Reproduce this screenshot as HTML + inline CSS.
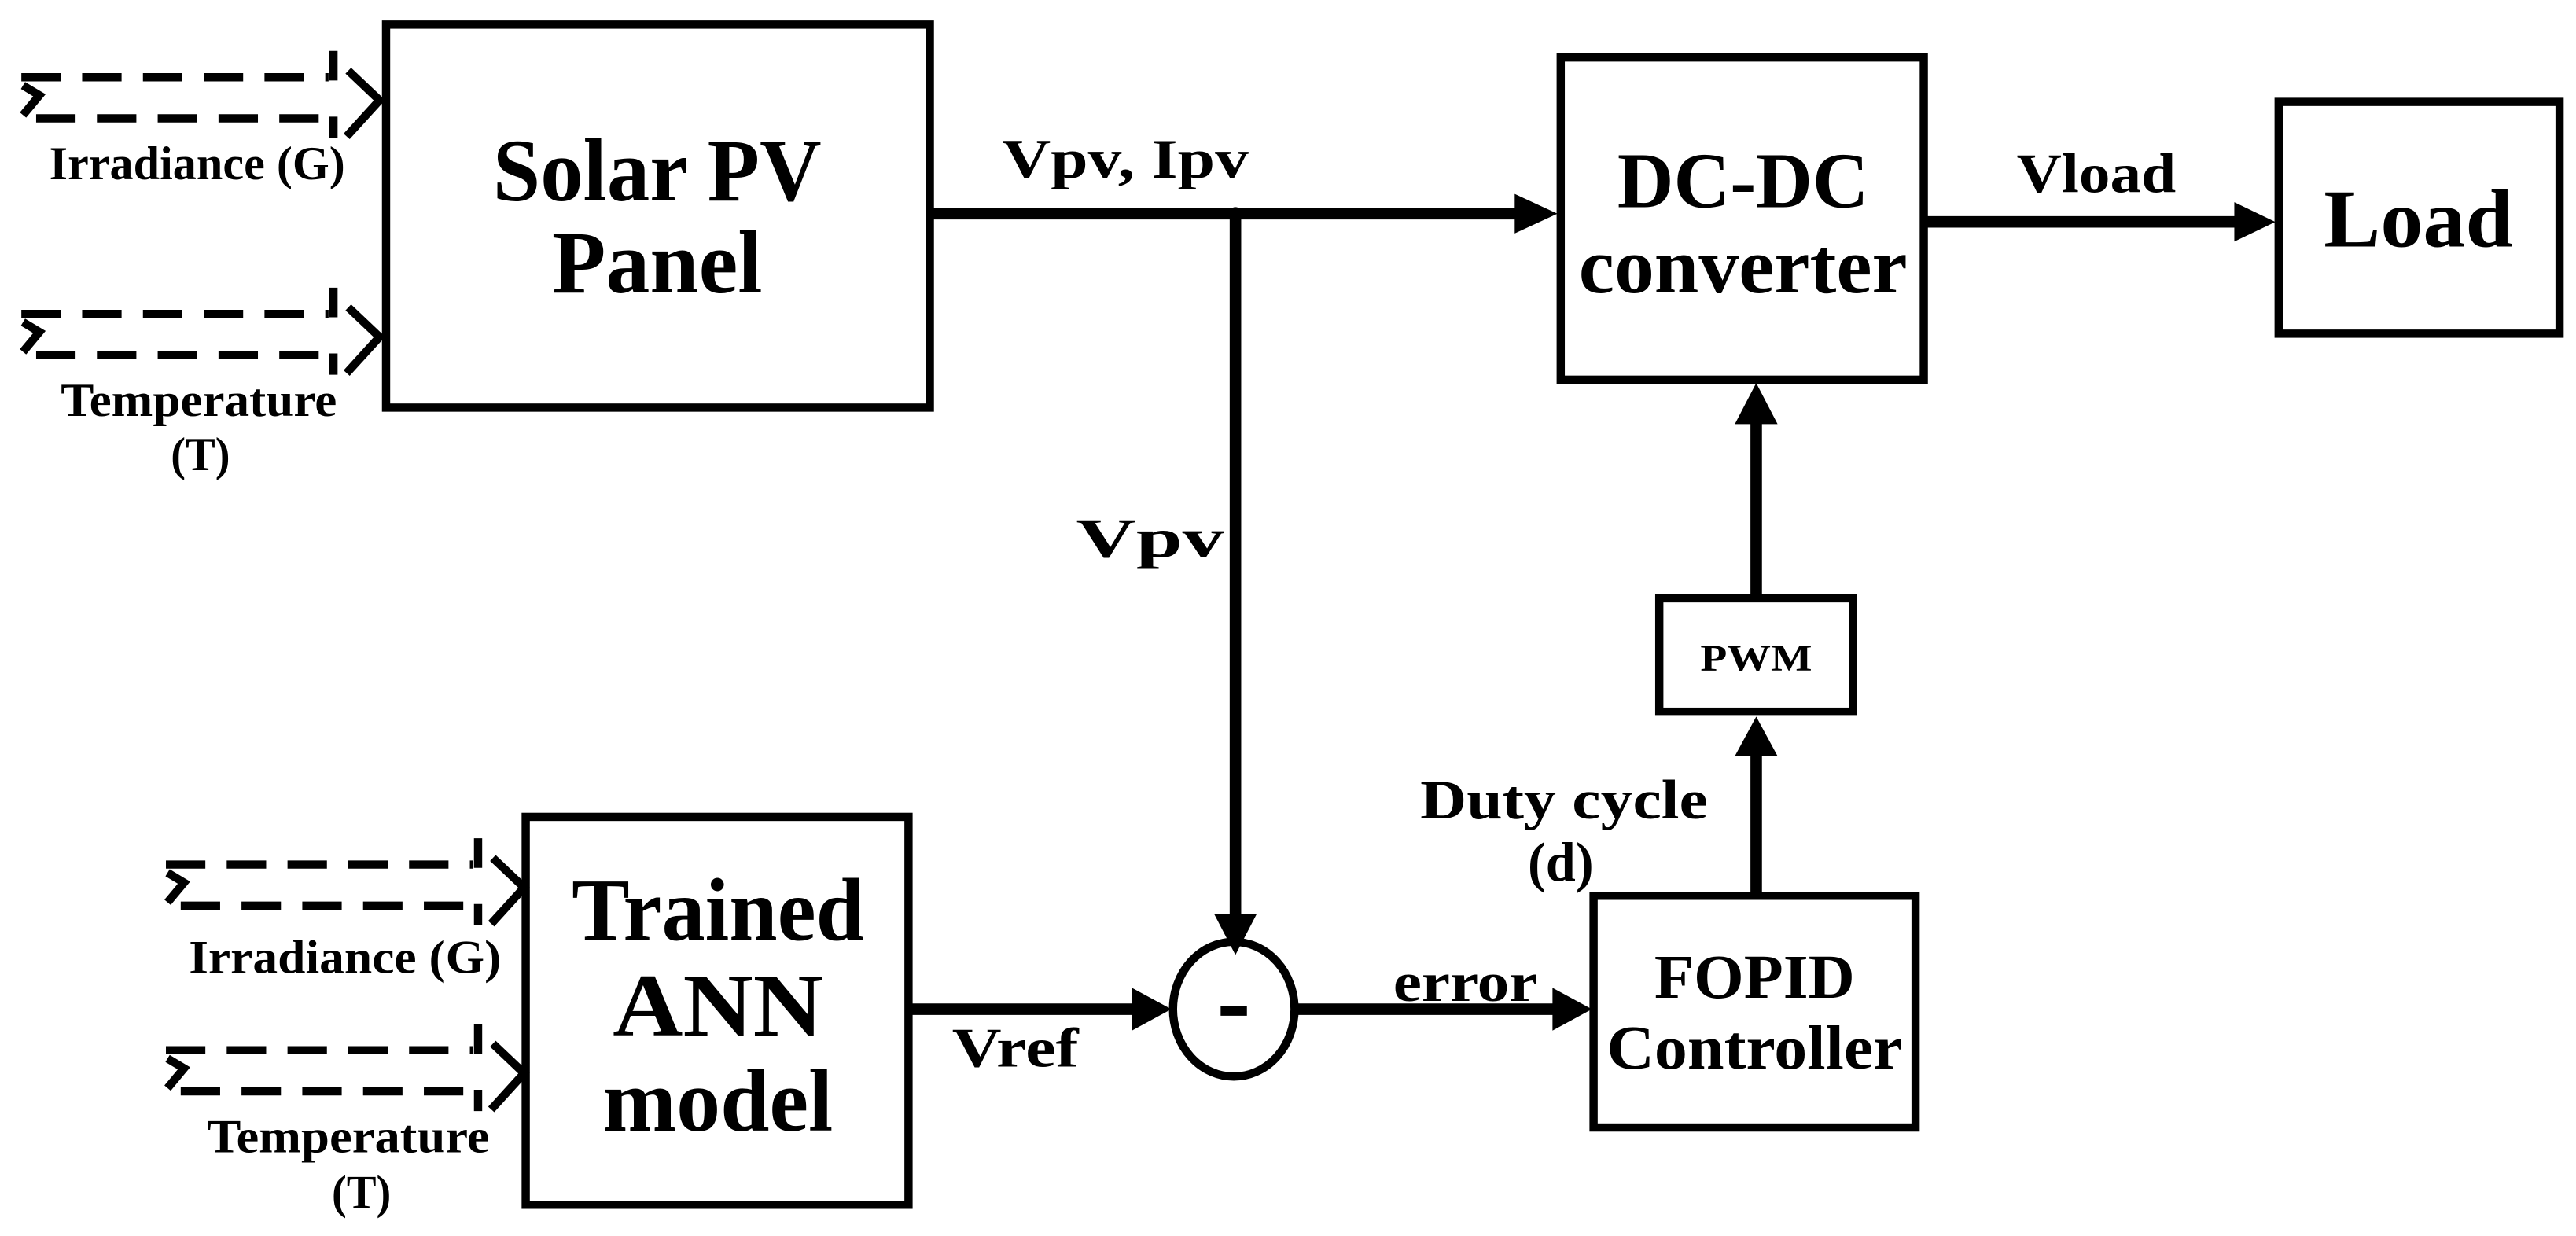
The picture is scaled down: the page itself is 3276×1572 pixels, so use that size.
<!DOCTYPE html>
<html><head><meta charset="utf-8"><style>
html,body{margin:0;padding:0;background:#fff;}
svg{display:block;}
text{font-family:"Liberation Serif","Times New Roman",serif;font-weight:bold;fill:#000;}
</style></head><body>
<svg width="3276" height="1572" viewBox="0 0 1568 752" preserveAspectRatio="none" xmlns="http://www.w3.org/2000/svg">
<defs>
<g id="inarr" fill="none" stroke="#000" stroke-width="5">
<line x1="13" y1="47" x2="200" y2="47" stroke-dasharray="24 13"/>
<polyline points="203,31 203,49" />
<polyline points="212,43 231,61 211,83"/>
<polyline points="203,71 203,84"/>
<line x1="22" y1="72" x2="198" y2="72" stroke-dasharray="24 13"/>
<polyline points="14,52 24,58 14,70"/>
</g>
</defs>

<use href="#inarr"/>
<use href="#inarr" transform="translate(0,144)"/>
<use href="#inarr" transform="translate(88,479)"/>
<use href="#inarr" transform="translate(88,592)"/>

<g text-anchor="middle" font-size="29">
<text x="120" y="109" textLength="180" lengthAdjust="spacingAndGlyphs">Irradiance (G)</text>
<text x="121" y="253" textLength="168" lengthAdjust="spacingAndGlyphs">Temperature</text>
<text x="122" y="286" textLength="36" lengthAdjust="spacingAndGlyphs">(T)</text>
<text x="210" y="592" textLength="190" lengthAdjust="spacingAndGlyphs">Irradiance (G)</text>
<text x="212" y="701" textLength="172" lengthAdjust="spacingAndGlyphs">Temperature</text>
<text x="220" y="735" textLength="36" lengthAdjust="spacingAndGlyphs">(T)</text>
</g>

<g fill="none" stroke="#000" stroke-width="5">
<rect x="235" y="15" width="331" height="233"/>
<rect x="950" y="35" width="221" height="196"/>
<rect x="1387" y="62" width="171" height="141"/>
<rect x="1010" y="364" width="118" height="69"/>
<rect x="970" y="545" width="196" height="141"/>
<rect x="320" y="497" width="233" height="236"/>
<ellipse cx="751" cy="614" rx="37" ry="41"/>
</g>

<g stroke="#000" stroke-width="7" fill="none">
<line x1="566" y1="130" x2="925" y2="130"/>
<line x1="752" y1="130" x2="752" y2="560"/>
<line x1="1171" y1="135" x2="1362" y2="135"/>
<line x1="1069" y1="362" x2="1069" y2="255"/>
<line x1="1069" y1="543" x2="1069" y2="457"/>
<line x1="553" y1="614" x2="692" y2="614"/>
<line x1="788" y1="614" x2="948" y2="614"/>
</g>
<g fill="#000">
<circle cx="752" cy="130" r="4"/>
<polygon points="922,118 948,130 922,142"/>
<polygon points="1360,123 1385,135 1360,147"/>
<polygon points="1056,258 1069,233 1082,258"/>
<polygon points="1056,460 1069,436 1082,460"/>
<polygon points="739,556 765,556 752,581"/>
<polygon points="689,601 713,614 689,627"/>
<polygon points="945,601 969,614 945,627"/>
<rect x="743" y="612" width="16" height="6"/>
</g>

<g text-anchor="middle">
<text x="400" y="122" font-size="54" textLength="200" lengthAdjust="spacingAndGlyphs">Solar PV</text>
<text x="400" y="178" font-size="54" textLength="128" lengthAdjust="spacingAndGlyphs">Panel</text>
<text x="1061" y="126" font-size="48" textLength="153" lengthAdjust="spacingAndGlyphs">DC-DC</text>
<text x="1061" y="178" font-size="48" textLength="200" lengthAdjust="spacingAndGlyphs">converter</text>
<text x="1472" y="150" font-size="50" textLength="115" lengthAdjust="spacingAndGlyphs">Load</text>
<text x="1069" y="408" font-size="23" textLength="68" lengthAdjust="spacingAndGlyphs">PWM</text>
<text x="1068" y="607" font-size="38" textLength="122" lengthAdjust="spacingAndGlyphs">FOPID</text>
<text x="1068" y="650" font-size="38" textLength="180" lengthAdjust="spacingAndGlyphs">Controller</text>
<text x="437" y="572" font-size="54" textLength="178" lengthAdjust="spacingAndGlyphs">Trained</text>
<text x="437" y="630" font-size="54" textLength="128" lengthAdjust="spacingAndGlyphs">ANN</text>
<text x="437" y="688" font-size="54" textLength="140" lengthAdjust="spacingAndGlyphs">model</text>
<text x="685" y="108" font-size="34" textLength="150" lengthAdjust="spacingAndGlyphs">Vpv, Ipv</text>
<text x="1276" y="117" font-size="34" textLength="97" lengthAdjust="spacingAndGlyphs">Vload</text>
<text x="700" y="339" font-size="34" textLength="90" lengthAdjust="spacingAndGlyphs">Vpv</text>
<text x="618" y="649" font-size="34" textLength="77" lengthAdjust="spacingAndGlyphs">Vref</text>
<text x="892" y="609" font-size="34" textLength="88" lengthAdjust="spacingAndGlyphs">error</text>
<text x="952" y="498" font-size="34" textLength="175" lengthAdjust="spacingAndGlyphs">Duty cycle</text>
<text x="950" y="536" font-size="34" textLength="40" lengthAdjust="spacingAndGlyphs">(d)</text>
</g>
</svg>
</body></html>
